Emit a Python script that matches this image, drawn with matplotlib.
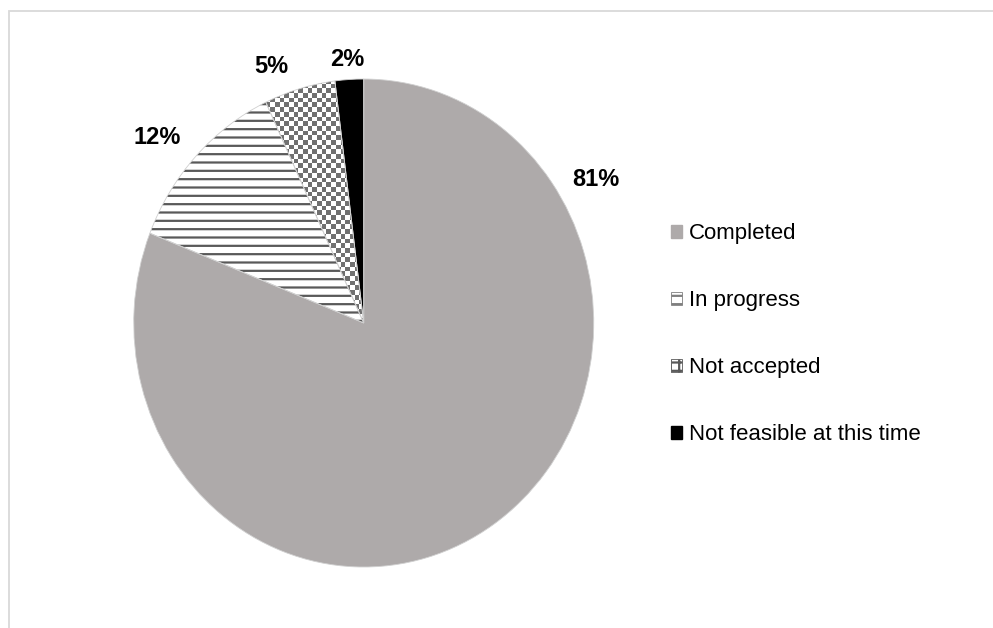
import matplotlib.pyplot as plt
import numpy as np
from matplotlib.patches import Patch, Rectangle

plt.rcParams['font.family'] = ['Liberation Sans', 'DejaVu Sans']
plt.rcParams['hatch.linewidth'] = 1.6

categories = ['Completed', 'In progress', 'Not accepted', 'Not feasible at this time']
shares = [81, 12, 5, 2]
pct_labels = ['81%', '12%', '5%', '2%']
# label spots in data units (Excel "best fit" placement)
label_x = [1.01, -0.90, -0.40, -0.07]
label_y = [0.59, 0.76, 1.05, 1.08]

fig = plt.figure(figsize=(9.93, 6.28), dpi=100)
ax = fig.add_axes([0.0768, 0.0, 0.579, 0.9713])

wedges, _ = ax.pie(shares, startangle=90, counterclock=False,
                   colors=['#AEAAAA', 'white', 'white', 'black'],
                   wedgeprops=dict(linewidth=0))
wedges[1].set_hatch('--')
wedges[1].set_edgecolor('#595959')
wedges[1].set_linewidth(0)

# checker fill for "Not accepted"
check = np.indices((104, 98)).sum(axis=0) % 2
im = ax.imshow(check, cmap=plt.matplotlib.colors.ListedColormap(['white', '#707070']),
               extent=[-1, 1, -1, 1], interpolation='nearest', aspect='auto', zorder=2)
im.set_clip_path(wedges[2])

# thin light edges between slices
for w in wedges:
    ax.add_patch(plt.matplotlib.patches.Wedge(w.center, w.r, w.theta1, w.theta2,
                                              fill=False, edgecolor='#D0D0D0',
                                              linewidth=0.6, zorder=3))

ax.set_aspect('auto')
ax.set_xlim(-1.25, 1.25)
ax.set_ylim(-1.25, 1.25)
ax.axis('off')

for t, x, y in zip(pct_labels, label_x, label_y):
    ax.text(x, y, t, ha='center', va='center', fontsize=17, fontweight='bold', color='black')

handles = [Patch(facecolor='#AEAAAA', edgecolor='#AEAAAA'),
           Patch(facecolor='white', edgecolor='#7F7F7F', hatch='--', linewidth=0.6),
           Patch(facecolor='white', edgecolor='#595959', hatch='++', linewidth=0.6),
           Patch(facecolor='black', edgecolor='black')]
fig.legend(handles, categories, loc='upper left', bbox_to_anchor=(660 / 993, 1 - 212 / 628),
           frameon=False, fontsize=16, handlelength=0.5, handleheight=0.5,
           handletextpad=0.3, labelspacing=2.07, borderpad=0)

fig.add_artist(Rectangle((9 / 993, -0.1), 1.2, (628 - 11) / 628 + 0.1,
                         transform=fig.transFigure, fill=False,
                         edgecolor='#D9D9D9', linewidth=1.3))

fig.savefig('out.png', dpi=100)
